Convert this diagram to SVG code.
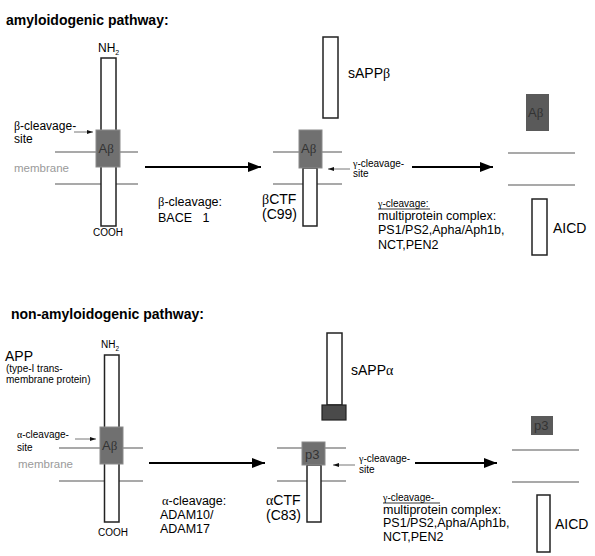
<svg xmlns="http://www.w3.org/2000/svg" width="595" height="556" viewBox="0 0 595 556">
<defs>
<marker id="bigHead" viewBox="0 0 13 10" refX="13" refY="5" markerWidth="13" markerHeight="10" markerUnits="userSpaceOnUse" orient="auto">
<path d="M0,0 L13,5 L0,10 Z" fill="#000"/>
</marker>
<marker id="smallHead" viewBox="0 0 6 4" refX="6" refY="2" markerWidth="6" markerHeight="4" markerUnits="userSpaceOnUse" orient="auto">
<path d="M0,0 L6,2 L0,4 Z" fill="#111"/>
</marker>
</defs>
<style>
text{font-family:"Liberation Sans",Arial,sans-serif;fill:#000}
.g{font-family:"Liberation Serif","Times New Roman",serif}
.title{font-weight:bold;font-size:14px}
.bar{fill:#fff;stroke:#222;stroke-width:1.5}
.mem{stroke:#8c8c8c;stroke-width:1.3;fill:none}
.abox{fill:#707070;stroke:#8a8a8a;stroke-width:1}
.dbox{fill:#5a5a5a;stroke:none}
.boxlbl{fill:#333;font-size:13px}
.main{stroke:#000;stroke-width:2;fill:none}
.site{stroke:#777;stroke-width:1;fill:none}
.memlbl{fill:#9a9a9a;font-size:11.5px}
.sm{font-size:10px}
.lbl{font-size:12px}
.big{font-size:14px}
.body{font-size:12.5px}
</style>

<!-- ===== amyloidogenic pathway ===== -->
<text id="title1" class="title" x="6" y="25">amyloidogenic pathway:</text>

<g id="app1">
<g class="membrane"><line class="mem" x1="55" y1="152" x2="138" y2="152"/><line class="mem" x1="55" y1="184" x2="138" y2="184"/></g>
<rect class="bar" x="101" y="58" width="15" height="168"/>
<rect class="abox" x="96" y="130" width="24" height="37"/>
<text class="boxlbl" x="98.5" y="153">A<tspan class="g">β</tspan></text>
<text class="lbl" x="98" y="52">NH<tspan font-size="7" dy="3">2</tspan></text>
<text class="sm" x="93" y="236">COOH</text>
<text class="memlbl" x="14" y="172">membrane</text>
<text class="lbl" x="14" y="130" font-size="11"><tspan class="g">β</tspan>-cleavage-</text>
<text class="lbl" x="14" y="143" font-size="11">site</text>
</g>

<g id="label-bace">
<text class="body" x="158" y="206"><tspan class="g">β</tspan>-cleavage:</text>
<text class="body" x="158" y="222" xml:space="preserve">BACE   1</text>
</g>

<g id="sappb">
<rect class="bar" x="323" y="37" width="15" height="81"/>
<text class="big" x="348" y="78" font-size="13.5">sAPP<tspan class="g">β</tspan></text>
</g>

<g id="bctf">
<g class="membrane"><line class="mem" x1="273" y1="152" x2="342" y2="152"/><line class="mem" x1="273" y1="184" x2="342" y2="184"/></g>
<rect class="bar" x="303" y="168" width="14" height="58"/>
<rect class="abox" x="299" y="130" width="23" height="38"/>
<text class="boxlbl" x="301" y="153">A<tspan class="g">β</tspan></text>
<text class="big" x="262" y="204"><tspan class="g">β</tspan>CTF</text>
<text class="big" x="262" y="219">(C99)</text>
<text class="sm" x="353" y="167"><tspan class="g">γ</tspan>-cleavage-</text>
<text class="sm" x="353" y="177">site</text>
</g>

<g id="label-gamma1">
<text class="sm" x="378" y="207"><tspan class="g">γ</tspan>-cleavage:</text>
<line x1="378" y1="209" x2="430" y2="209" stroke="#000" stroke-width="0.8"/>
<text class="body" x="378" y="220">multiprotein complex:</text>
<text class="body" x="378" y="234">PS1/PS2,Apha/Aph1b,</text>
<text class="body" x="378" y="249">NCT,PEN2</text>
</g>

<g id="abeta-product">
<rect class="dbox" x="526" y="94" width="23" height="37"/>
<text class="boxlbl" x="528" y="117">A<tspan class="g">β</tspan></text>
<g class="membrane"><line class="mem" x1="508" y1="153" x2="575" y2="153"/><line class="mem" x1="508" y1="185" x2="575" y2="185"/></g>
</g>

<g id="aicd1">
<rect class="bar" x="532" y="199" width="15" height="56"/>
<text class="big" x="553" y="233">AICD</text>
</g>

<!-- ===== non-amyloidogenic pathway ===== -->
<text id="title2" class="title" x="11" y="319">non-amyloidogenic pathway:</text>

<g id="app2">
<text class="big" x="5" y="361">APP</text>
<text class="sm" x="6" y="372">(type-I trans-</text>
<text class="sm" x="6" y="383">membrane protein)</text>
<g class="membrane"><line class="mem" x1="59" y1="448" x2="143" y2="448"/><line class="mem" x1="59" y1="481" x2="143" y2="481"/></g>
<rect class="bar" x="104.5" y="355" width="14.5" height="167"/>
<rect class="abox" x="100" y="427" width="23" height="37"/>
<text class="boxlbl" x="102" y="450">A<tspan class="g">β</tspan></text>
<text class="sm" x="101" y="348" font-size="10.5">NH<tspan font-size="6.5" dy="3">2</tspan></text>
<text class="sm" x="98" y="536">COOH</text>
<text class="memlbl" x="18" y="468">membrane</text>
<text class="sm" x="17" y="438"><tspan class="g">α</tspan>-cleavage-</text>
<text class="sm" x="17" y="451">site</text>
</g>

<g id="label-adam">
<text class="body" x="162" y="505"><tspan class="g">α</tspan>-cleavage:</text>
<text class="body" x="160" y="519">ADAM10/</text>
<text class="body" x="160" y="533">ADAM17</text>
</g>

<g id="sappa">
<rect class="bar" x="327" y="333" width="15" height="72"/>
<rect x="322" y="405" width="24" height="15" fill="#4a4a4a" stroke="#222" stroke-width="1.2"/>
<text class="big" x="351" y="375" font-size="13.5">sAPP<tspan class="g">α</tspan></text>
</g>

<g id="actf">
<g class="membrane"><line class="mem" x1="277" y1="448" x2="346" y2="448"/><line class="mem" x1="277" y1="481" x2="346" y2="481"/></g>
<rect class="bar" x="307" y="465" width="14" height="57"/>
<rect class="abox" x="302" y="442" width="23" height="23"/>
<text class="boxlbl" x="305" y="459" font-size="12">p3</text>
<text class="big" x="266" y="505"><tspan class="g">α</tspan>CTF</text>
<text class="big" x="266" y="520">(C83)</text>
<text class="sm" x="359" y="462"><tspan class="g">γ</tspan>-cleavage-</text>
<text class="sm" x="359" y="473">site</text>
</g>

<g id="label-gamma2">
<text class="sm" x="383" y="501"><tspan class="g">γ</tspan>-cleavage-</text>
<line x1="383" y1="503" x2="440" y2="503" stroke="#000" stroke-width="0.8"/>
<text class="body" x="383" y="514">multiprotein complex:</text>
<text class="body" x="383" y="527">PS1/PS2,Apha/Aph1b,</text>
<text class="body" x="383" y="541">NCT,PEN2</text>
</g>

<g id="p3-product">
<rect class="dbox" x="531" y="416" width="22" height="19"/>
<text class="boxlbl" x="534" y="430" font-size="12">p3</text>
<g class="membrane"><line class="mem" x1="512" y1="450" x2="579" y2="450"/><line class="mem" x1="512" y1="482" x2="579" y2="482"/></g>
</g>

<g id="aicd2">
<rect class="bar" x="537" y="495" width="13" height="57"/>
<text class="big" x="555" y="529">AICD</text>
</g>

<!-- ===== connectors ===== -->
<g id="connectors">
<line class="main" x1="145" y1="167" x2="261" y2="167" marker-end="url(#bigHead)"/>
<line class="main" x1="412" y1="167" x2="493" y2="167" marker-end="url(#bigHead)"/>
<line class="main" x1="149" y1="463" x2="265" y2="463" marker-end="url(#bigHead)"/>
<line class="main" x1="415" y1="463" x2="497" y2="463" marker-end="url(#bigHead)"/>
<line class="site" x1="74" y1="132" x2="93" y2="132" marker-end="url(#smallHead)"/>
<line class="site" x1="350" y1="169" x2="328" y2="169" marker-end="url(#smallHead)"/>
<line class="site" x1="75" y1="439" x2="96" y2="439" marker-end="url(#smallHead)"/>
<line class="site" x1="355" y1="465" x2="333" y2="465" marker-end="url(#smallHead)"/>
</g>
</svg>
